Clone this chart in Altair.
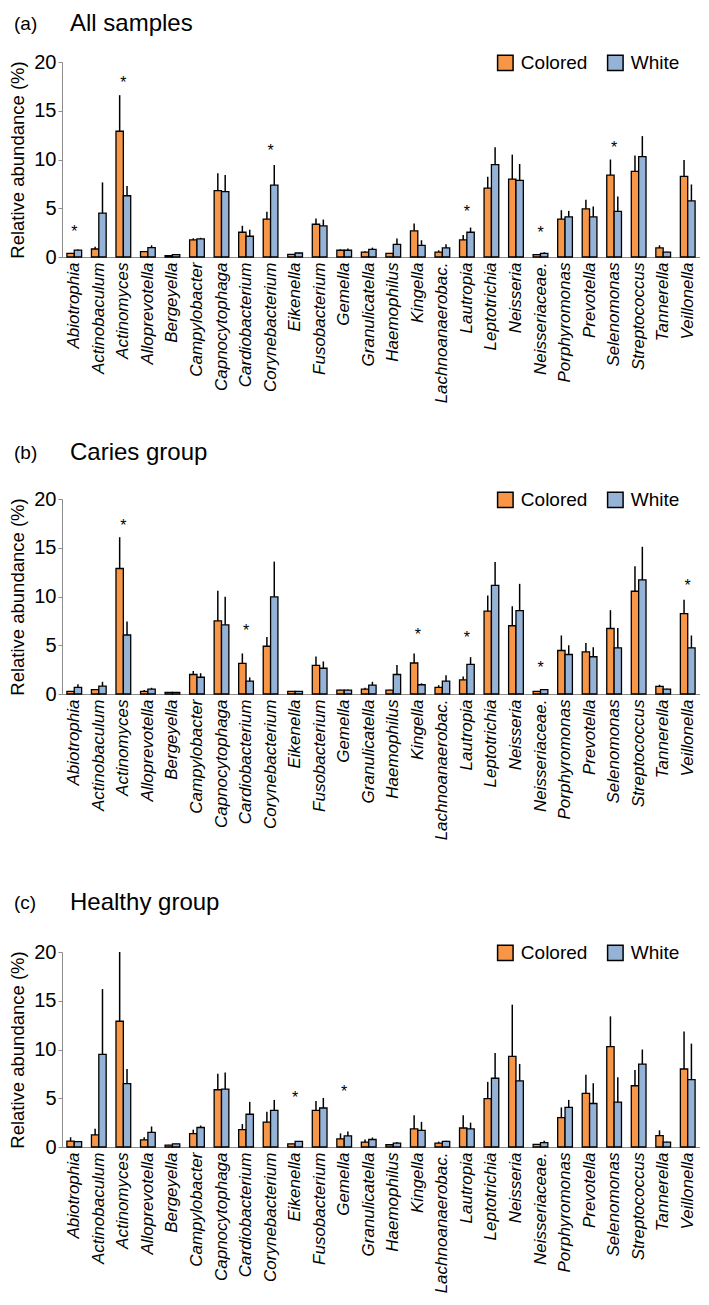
import altair as alt
import pandas as pd

categories = ["Abiotrophia", "Actinobaculum", "Actinomyces", "Alloprevotella", "Bergeyella",
              "Campylobacter", "Capnocytophaga", "Cardiobacterium", "Corynebacterium", "Eikenella",
              "Fusobacterium", "Gemella", "Granulicatella", "Haemophilus", "Kingella",
              "Lachnoanaerobac.", "Lautropia", "Leptotrichia", "Neisseria", "Neisseriaceae.",
              "Porphyromonas", "Prevotella", "Selenomonas", "Streptococcus", "Tannerella", "Veillonella"]
series = ["Colored", "White"]
colors = ["#F79646", "#95B3D7"]

# (a) All samples
a_col = [0.38, 0.82, 12.9, 0.55, 0.14, 1.75, 6.8, 2.54, 3.88, 0.27, 3.36, 0.69, 0.51, 0.38, 2.68,
         0.51, 1.75, 7.07, 7.99, 0.24, 3.88, 4.94, 8.4, 8.78, 0.93, 8.27]
a_col_up = [0.42, 1.05, 16.6, 0.62, 0.16, 1.92, 8.6, 3.2, 4.63, 0.3, 3.95, 0.79, 0.6, 0.42, 3.43,
            0.69, 2.26, 8.23, 10.5, 0.27, 4.8, 5.87, 10.0, 10.4, 1.2, 9.95]
a_wht = [0.7, 4.5, 6.28, 0.96, 0.24, 1.85, 6.7, 2.13, 7.38, 0.41, 3.19, 0.69, 0.79, 1.3, 1.2,
         0.93, 2.54, 9.47, 7.86, 0.38, 4.12, 4.12, 4.67, 10.3, 0.51, 5.76]
a_wht_up = [0.78, 7.65, 7.27, 1.2, 0.27, 1.97, 8.4, 2.8, 9.43, 0.44, 3.84, 0.86, 0.96, 1.89, 1.72,
            1.3, 3.02, 11.25, 9.54, 0.5, 4.73, 5.18, 6.2, 12.4, 0.55, 7.44]
a_star_genus = ["Abiotrophia", "Actinomyces", "Corynebacterium", "Lautropia", "Neisseriaceae.", "Selenomonas"]
a_star_y = [2.9, 18.2, 11.15, 4.9, 2.74, 11.5]

# (b) Caries group
b_col = [0.27, 0.44, 12.87, 0.27, 0.17, 2.0, 7.5, 3.14, 4.9, 0.27, 2.94, 0.4, 0.5, 0.4, 3.18,
         0.68, 1.45, 8.5, 7.0, 0.27, 4.46, 4.32, 6.72, 10.54, 0.78, 8.24]
b_col_up = [0.3, 0.5, 16.08, 0.4, 0.19, 2.36, 10.6, 4.16, 5.84, 0.3, 3.85, 0.45, 0.65, 0.44, 4.15,
            0.9, 1.8, 10.1, 9.0, 0.3, 6.0, 5.24, 8.6, 13.1, 0.95, 9.66]
b_wht = [0.68, 0.81, 6.05, 0.5, 0.17, 1.72, 7.09, 1.32, 9.97, 0.27, 2.64, 0.4, 0.91, 2.0, 0.95,
         1.32, 3.04, 11.15, 8.55, 0.44, 4.05, 3.82, 4.73, 11.7, 0.5, 4.73]
b_wht_up = [1.0, 1.25, 7.43, 0.64, 0.19, 2.13, 9.97, 1.7, 13.58, 0.3, 3.34, 0.45, 1.25, 2.97, 1.1,
            1.93, 3.78, 13.55, 11.3, 0.5, 5.0, 4.8, 6.76, 15.1, 0.55, 6.0]
b_star_genus = ["Actinomyces", "Cardiobacterium", "Kingella", "Lautropia", "Neisseriaceae.", "Veillonella"]
b_star_y = [17.57, 6.76, 6.35, 6.05, 2.97, 11.4]

# (c) Healthy group
c_col = [0.6, 1.24, 12.9, 0.74, 0.2, 1.38, 5.87, 1.78, 2.55, 0.33, 3.76, 0.84, 0.5, 0.23, 1.85,
         0.4, 1.95, 4.97, 9.3, 0.27, 3.02, 5.5, 10.3, 6.28, 1.17, 8.0]
c_col_up = [1.0, 1.88, 20.0, 1.0, 0.22, 1.78, 7.52, 2.35, 3.62, 0.36, 4.73, 1.4, 0.77, 0.26, 3.25,
            0.55, 3.25, 6.68, 14.6, 0.3, 4.06, 7.42, 13.4, 7.89, 1.71, 11.85]
c_wht = [0.55, 9.5, 6.5, 1.5, 0.33, 2.0, 5.94, 3.36, 3.76, 0.57, 4.0, 1.14, 0.77, 0.4, 1.71,
         0.57, 1.85, 7.05, 6.78, 0.44, 4.06, 4.46, 4.6, 8.49, 0.5, 6.91]
c_wht_up = [0.6, 16.2, 8.0, 2.1, 0.36, 2.2, 7.65, 4.63, 4.83, 0.6, 5.03, 1.6, 0.97, 0.5, 2.58,
            0.65, 2.5, 9.63, 8.52, 0.65, 4.83, 6.54, 7.15, 10.0, 0.55, 10.6]
c_star_genus = ["Eikenella", "Gemella"]
c_star_y = [5.3, 5.97]

FONT = "Liberation Sans"
W = 638
H = 195


def panel(tag, name, col, col_up, wht, wht_up, star_genus, star_y, title_top):
    rows = []
    for g, c, cu, w, wu in zip(categories, col, col_up, wht, wht_up):
        rows.append({"genus": g, "series": "Colored", "val": c, "up": cu})
        rows.append({"genus": g, "series": "White", "val": w, "up": wu})
    df = pd.DataFrame(rows)
    stars = pd.DataFrame({"genus": star_genus, "y": star_y})

    xenc = alt.X("genus:N", sort=categories,
                 scale=alt.Scale(paddingInner=0.4, paddingOuter=0.2),
                 axis=alt.Axis(title=None, labelAngle=270, ticks=False, labelPadding=5,
                               labelFontSize=17, labelFontStyle="italic", labelFont=FONT,
                               labelColor="black", domainColor="#8c8c8c", labelLimit=300))
    yenc = alt.Y("val:Q", scale=alt.Scale(domain=[0, 20], nice=False),
                 axis=alt.Axis(title="Relative abundance (%)", values=[0, 5, 10, 15, 20],
                               grid=False, tickSize=4, labelPadding=2, labelFontSize=20,
                               labelFont=FONT, labelColor="black", titleFont=FONT,
                               titleFontSize=18.5, titleFontWeight="normal", titleColor="black",
                               titlePadding=6, domainColor="#8c8c8c", tickColor="#8c8c8c"))
    xoff = alt.XOffset("series:N", sort=series, scale=alt.Scale(paddingInner=0, paddingOuter=0))

    bars = alt.Chart(df).mark_bar(stroke="black", strokeWidth=1.3).encode(
        x=xenc, xOffset=xoff, y=yenc,
        color=alt.Color("series:N", sort=series,
                        scale=alt.Scale(domain=series, range=colors),
                        legend=alt.Legend(title=None, orient="none", legendX=W * 0.68, legendY=-9,
                                          direction="horizontal", symbolType="square",
                                          symbolSize=240, symbolStrokeColor="black",
                                          symbolStrokeWidth=1.5, symbolOpacity=1,
                                          labelFontSize=19, labelFont=FONT, labelColor="black",
                                          labelOffset=6, columnPadding=16, padding=0)))
    errs = alt.Chart(df).mark_rule(color="black", strokeWidth=1.5).encode(
        x=alt.X("genus:N", sort=categories), xOffset=xoff,
        y=alt.Y("val:Q"), y2="up:Q")
    star = alt.Chart(stars).mark_text(text="*", fontSize=16, font=FONT, color="black",
                                      baseline="alphabetic", dy=8).encode(
        x=alt.X("genus:N", sort=categories), y=alt.Y("y:Q"))
    tag_txt = alt.Chart(pd.DataFrame({"t": [tag]})).mark_text(
        font=FONT, fontSize=19, color="black", align="left", baseline="top").encode(
        text="t:N", x=alt.value(-48), y=alt.value(title_top + 3))
    name_txt = alt.Chart(pd.DataFrame({"t": [name]})).mark_text(
        font=FONT, fontSize=24, color="black", align="left", baseline="top").encode(
        text="t:N", x=alt.value(8), y=alt.value(title_top))

    return alt.layer(bars, errs, star, tag_txt, name_txt).properties(width=W, height=H)


pa = panel("(a)", "All samples", a_col, a_col_up, a_wht, a_wht_up, a_star_genus, a_star_y, -50)
pb = panel("(b)", "Caries group", b_col, b_col_up, b_wht, b_wht_up, b_star_genus, b_star_y, -58)
pc = panel("(c)", "Healthy group", c_col, c_col_up, c_wht, c_wht_up, c_star_genus, c_star_y, -61)

top2 = alt.vconcat(pa, pb, spacing=38).resolve_scale(color="independent").resolve_legend(
    color="independent")
chart = alt.vconcat(top2, pc, spacing=51).resolve_scale(
    color="independent").resolve_legend(color="independent").configure_view(
    stroke=None).properties(padding={"left": 0, "top": 4, "right": 0, "bottom": 0})

chart.save("out.html", embed_options={"renderer": "svg", "actions": False})
